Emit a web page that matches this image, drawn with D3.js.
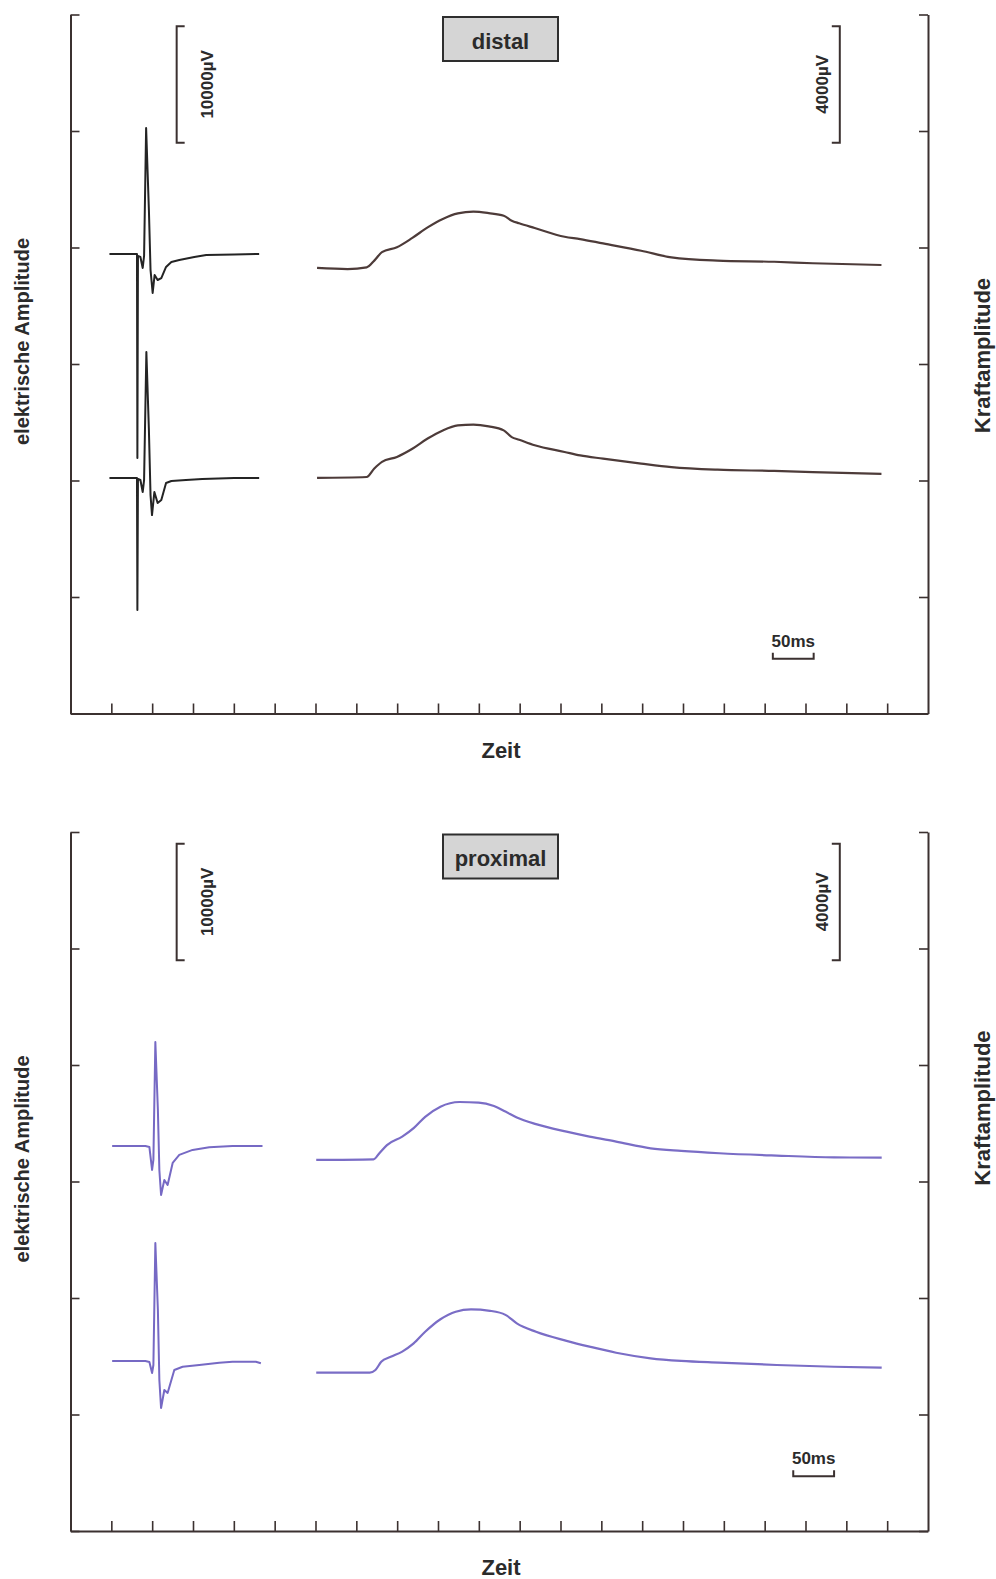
<!DOCTYPE html>
<html>
<head>
<meta charset="utf-8">
<script src="https://cdn.jsdelivr.net/npm/d3@7"></script>
<style>
body { margin: 0; background: #fff; }
text { font-family: "Liberation Sans", Arial, sans-serif; font-weight: bold; fill: #2b2b2b; }
</style>
</head>
<body>
<div id="chartArea"></div>
<script>
// Zeit in ms, elektrische Amplitude in mV (linke Achse), Kraftamplitude in mV (rechte Achse)
var zeitTicks = [50,100,150,200,250,300,350,400,450,500,550,600,650,700,750,800,850,900,950,1000];
var emgTicks = [0,10,20,30,40,50,60];
var kraftTicks = [0,4,8,12,16,20,24];
var panelTitles = ['distal','proximal'];

var distalEmg1 = [[47.7,39.44],[79.5,39.44],[81.4,39.44],[81.9,21.93],[82.6,39.27],[85.6,39.19],[88.4,38.24],[90.1,39.27],
    [92.6,50.26],[96.0,43.22],[98.0,38.07],[100.6,36.10],[103.0,37.64],[106.7,37.21],[111.2,37.38],[117.0,38.33],
    [123.5,38.76],[133.2,38.93],[151.6,39.19],[166.2,39.36],[200.5,39.40],[231.0,39.44]];
var distalEmg2 = [[47.7,20.22],[79.5,20.22],[81.4,20.22],[81.9,8.88],[82.6,20.13],[85.6,20.04],[88.4,19.01],[90.1,20.04],
    [92.9,31.03],[96.0,24.34],[98.0,18.75],[99.8,17.03],[102.7,19.01],[106.7,18.07],[111.2,18.33],[117.0,19.79],
    [123.5,19.96],[141.4,20.04],[161.3,20.13],[200.5,20.22],[231.0,20.22]];
var distalKraft1 = [[301.9,15.30],[339.3,15.26],[362.7,15.32],[372.0,15.55],[381.4,15.84],[399.7,16.01],[418.6,16.33],
    [437.3,16.69],[455.9,16.98],[474.3,17.17],[493.3,17.23],[512.1,17.18],[530.5,17.09],[540.3,16.92],[549.4,16.83],
    [568.4,16.67],[605.0,16.37],[624.1,16.29],[652.1,16.14],[698.8,15.89],[735.8,15.66],[792.1,15.55],[861.7,15.51],
    [908.9,15.46],[993.0,15.40]];
var distalKraft2 = [[301.9,8.09],[362.7,8.12],[372.0,8.41],[381.4,8.64],[399.7,8.81],[418.6,9.09],[437.3,9.44],
    [455.9,9.72],[474.3,9.89],[493.3,9.92],[512.1,9.86],[530.5,9.72],[540.3,9.49],[549.4,9.40],[568.4,9.21],
    [605.0,8.98],[624.1,8.86],[652.1,8.75],[698.8,8.58],[735.8,8.46],[792.1,8.37],[861.7,8.33],[908.9,8.29],[993.0,8.23]];

var proximalEmg1 = [[51.0,33.05],[91.7,33.05],[96.6,32.96],[99.9,30.99],[101.5,31.85],[103.9,41.98],[107.0,36.14],
    [108.8,30.99],[110.9,28.84],[114.9,30.13],[118.9,29.70],[125.1,31.59],[133.2,32.28],[149.5,32.71],[169.9,32.94],
    [198.4,33.05],[235.1,33.05]];
var proximalEmg2 = [[51.0,14.59],[91.7,14.59],[96.6,14.51],[99.9,13.56],[101.5,14.25],[103.9,24.72],[107.0,18.97],
    [108.8,12.96],[110.9,10.56],[114.9,12.10],[118.9,11.85],[127.1,13.82],[137.3,14.10],[157.7,14.25],[182.2,14.45],
    [198.4,14.53],[227.0,14.53],[233.1,14.40]];
var proximalKraft1 = [[300.9,12.74],[371.1,12.76],[378.2,12.97],[387.5,13.25],[406.2,13.54],[420.2,13.83],[434.3,14.22],
    [453.0,14.57],[476.3,14.73],[499.8,14.71],[518.5,14.59],[532.6,14.40],[546.5,14.20],[570.0,13.97],[607.4,13.71],
    [635.5,13.54],[668.1,13.37],[710.3,13.14],[747.7,13.05],[794.5,12.97],[864.7,12.89],[934.9,12.83],[993.3,12.82]];
var proximalKraft2 = [[300.9,5.44],[366.4,5.44],[373.4,5.53],[380.5,5.81],[392.1,5.98],[406.2,6.16],[420.2,6.44],
    [434.3,6.84],[453.0,7.27],[471.7,7.53],[490.4,7.61],[513.7,7.56],[532.6,7.42],[546.5,7.13],[570.0,6.84],
    [607.4,6.53],[635.5,6.33],[668.1,6.12],[710.3,5.93],[747.7,5.84],[794.5,5.78],[864.7,5.70],[934.9,5.64],[993.3,5.61]];

var width = 996, height = 1579;
var left = 70.5, right = 928, panelH = 699;
var axisColor = '#3b3130';

var svg = d3.select('#chartArea').append('svg')
    .attr('width', width)
    .attr('height', height);

var xscale = d3.scaleLinear().domain([0, 1050]).range([left, right]);

var panels = [
    {title: panelTitles[0], top: 14.5, emg: [distalEmg1, distalEmg2], kraft: [distalKraft1, distalKraft2],
     emgColor: '#242424', kraftColor: '#4d3b39', msBarT: 860, kraftLabelY: 341},
    {title: panelTitles[1], top: 832, emg: [proximalEmg1, proximalEmg2], kraft: [proximalKraft1, proximalKraft2],
     emgColor: '#7669c4', kraftColor: '#7a6dc6', msBarT: 885, kraftLabelY: 276}
];

panels.forEach(function(p) {
    var bottom = p.top + panelH;
    var yEmg = d3.scaleLinear().domain([0, 60]).range([bottom, p.top]);
    var yKraft = d3.scaleLinear().domain([0, 24]).range([bottom, p.top]);
    var g = svg.append('g');

    // Achsen
    var axL = g.append('g').attr('transform', 'translate(' + left + ',0)')
        .call(d3.axisRight(yEmg).tickValues(emgTicks).tickSize(9).tickSizeOuter(0).tickFormat(''));
    var axR = g.append('g').attr('transform', 'translate(' + right + ',0)')
        .call(d3.axisLeft(yKraft).tickValues(kraftTicks).tickSize(9).tickSizeOuter(0).tickFormat(''));
    var axB = g.append('g').attr('transform', 'translate(0,' + bottom + ')')
        .call(d3.axisTop(xscale).tickValues(zeitTicks).tickSize(10).tickSizeOuter(0).tickFormat(''));
    [axL, axR, axB].forEach(function(a) {
        a.select('.domain').attr('stroke', axisColor).attr('stroke-width', 2);
        a.selectAll('.tick line').attr('stroke', axisColor).attr('stroke-width', 1.6);
    });

    // Kurven
    var emgLine = d3.line().x(function(d){ return xscale(d[0]); }).y(function(d){ return yEmg(d[1]); });
    var kraftLine = d3.line().curve(d3.curveMonotoneX)
        .x(function(d){ return xscale(d[0]); }).y(function(d){ return yKraft(d[1]); });
    p.emg.forEach(function(s) {
        g.append('path').datum(s).attr('d', emgLine).attr('fill', 'none')
            .attr('stroke', p.emgColor).attr('stroke-width', 2).attr('stroke-linejoin', 'round');
    });
    p.kraft.forEach(function(s) {
        g.append('path').datum(s).attr('d', kraftLine).attr('fill', 'none')
            .attr('stroke', p.kraftColor).attr('stroke-width', 2.2).attr('stroke-linejoin', 'round');
    });

    // Titelbox
    g.append('rect').attr('x', 443).attr('y', p.top + 2.5).attr('width', 115).attr('height', 44)
        .attr('fill', '#d5d5d5').attr('stroke', '#2e2e2e').attr('stroke-width', 2);
    g.append('text').attr('x', 500.5).attr('y', p.top + 34).attr('text-anchor', 'middle')
        .style('font-size', '22px').text(p.title);

    // Skalenbalken 10000µV (linke Skala)
    var bx = xscale(130), by0 = yEmg(49), by1 = yEmg(59);
    g.append('path').attr('d', 'M' + (bx + 8) + ',' + by1 + 'H' + bx + 'V' + by0 + 'H' + (bx + 8))
        .attr('fill', 'none').attr('stroke', axisColor).attr('stroke-width', 2);
    g.append('text').attr('transform', 'translate(' + (bx + 36) + ',' + ((by0 + by1) / 2) + ') rotate(-90)')
        .attr('text-anchor', 'middle').style('font-size', '17px').text('10000µV');

    // Skalenbalken 4000µV (rechte Skala)
    var kx = xscale(942), ky0 = yKraft(19.6), ky1 = yKraft(23.6);
    g.append('path').attr('d', 'M' + (kx - 8) + ',' + ky1 + 'H' + kx + 'V' + ky0 + 'H' + (kx - 8))
        .attr('fill', 'none').attr('stroke', axisColor).attr('stroke-width', 2);
    g.append('text').attr('transform', 'translate(' + (kx - 12) + ',' + ((ky0 + ky1) / 2) + ') rotate(-90)')
        .attr('text-anchor', 'middle').style('font-size', '17px').text('4000µV');

    // Skalenbalken 50ms
    var mx0 = xscale(p.msBarT), mx1 = xscale(p.msBarT + 50), my = yEmg(4.7);
    g.append('path').attr('d', 'M' + mx0 + ',' + (my - 6) + 'V' + my + 'H' + mx1 + 'V' + (my - 6))
        .attr('fill', 'none').attr('stroke', axisColor).attr('stroke-width', 2);
    g.append('text').attr('x', (mx0 + mx1) / 2).attr('y', my - 12).attr('text-anchor', 'middle')
        .style('font-size', '17px').text('50ms');

    // Achsentitel
    g.append('text').attr('x', 501).attr('y', bottom + 44).attr('text-anchor', 'middle')
        .style('font-size', '22px').text('Zeit');
    g.append('text').attr('transform', 'translate(29,' + (p.top + 327) + ') rotate(-90)')
        .attr('text-anchor', 'middle').style('font-size', '20px').text('elektrische Amplitude');
    g.append('text').attr('transform', 'translate(990,' + (p.top + p.kraftLabelY) + ') rotate(-90)')
        .attr('text-anchor', 'middle').style('font-size', '22px').text('Kraftamplitude');
});
</script>
</body>
</html>
